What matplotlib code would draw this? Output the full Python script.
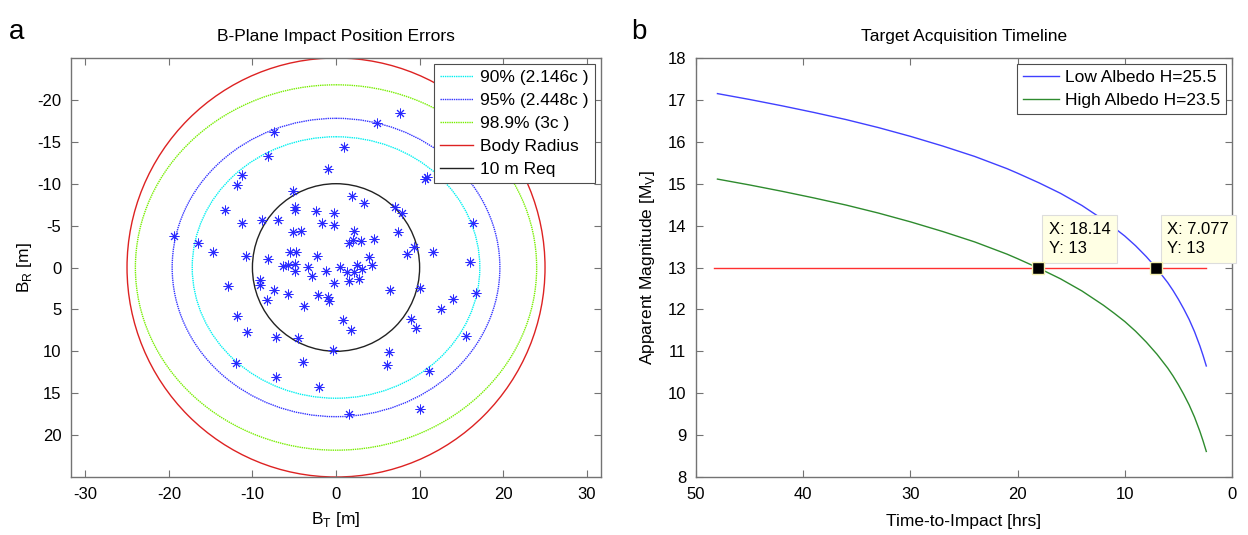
import numpy as np
import matplotlib.pyplot as plt
from matplotlib.patches import Ellipse

plt.rcParams['font.family'] = ['Liberation Sans', 'DejaVu Sans']
plt.rcParams['axes.unicode_minus'] = False

# ---------------------------------------------------------------
# panel a: B-plane impact points
# ---------------------------------------------------------------
bt = [-7.4, -8.1, -11.3, -11.8, -5.1, -4.9, -4.9, -2.4, -13.3, -11.2, -8.8, -6.9,
      -5.2, -4.2, -19.4, -16.5, -14.7, -10.8, -8.1, -5.5, -4.8, -2.3, -6.4, -5.7,
      -4.9, -3.4,
      -4.9, -2.9, -12.9, -9.1, -9.1, -7.4, -5.8, -8.2, -2.2, -3.8, -11.9, -10.7,
      -7.2, -4.6, -3.9, -12.0, -7.2, -2.0,
      7.6, 4.9, 0.9, -1.0, 10.6, 10.9, 1.9, 3.4, 7.0, 7.9, -0.2, -1.7, -0.2, 16.4,
      2.2, 7.4, 4.6, 2.0, 1.6, 3.0, 9.3, 11.6, 8.5, 3.9, 16.0, 2.5, 4.3, 0.5,
      -1.2, 1.3, 2.1, 3.1, -0.2, 1.6, 2.7, 6.5, 10.0, 16.7, -0.9, -0.8, 14.0, 12.6,
      0.8, 9.0, 9.6, 1.8, 15.5, -0.4, 6.3, 6.1, 11.1, 10.0, 1.5]
br = [-16.2, -13.3, -11.0, -9.9, -9.1, -7.2, -6.9, -6.7, -6.9, -5.3, -5.7, -5.7,
      -4.2, -4.3, -3.8, -2.9, -1.9, -1.4, -1.0, -1.9, -1.9, -1.4, -0.2, -0.3,
      -0.4, -0.1,
      0.4, 1.0, 2.2, 1.5, 2.1, 2.7, 3.2, 3.9, 3.3, 4.6, 5.8, 7.7,
      8.3, 8.4, 11.3, 11.4, 13.1, 14.3,
      -18.4, -17.2, -14.4, -11.8, -10.6, -10.8, -8.5, -7.7, -7.2, -6.5, -6.5, -5.3, -5.1, -5.3,
      -4.4, -4.2, -3.4, -3.3, -2.9, -3.2, -2.5, -1.9, -1.6, -1.3, -0.6, -0.3, -0.3, -0.1,
      0.4, 0.5, 0.5, 0.2, 1.9, 1.6, 1.4, 2.7, 2.4, 3.0, 3.5, 4.0, 3.8, 4.9,
      6.3, 6.1, 7.2, 7.4, 8.2, 9.8, 10.1, 11.6, 12.4, 16.9, 17.5]

# error ellipse semi-axes (BT, BR) and plain circles
ell_labels = ['90% (2.146c )', '95% (2.448c )', '98.9% (3c )']
ell_bt = [17.2, 19.6, 24.0]
ell_br = [15.6, 17.8, 21.8]
ell_colors = ['#00f0f0', '#3333ff', '#77ee00']
body_radius = 25.0
req_radius = 10.0

# ---------------------------------------------------------------
# panel b: apparent magnitude vs time to impact
# ---------------------------------------------------------------
t_hrs = [48, 45, 42, 39, 36, 33, 30, 27, 24, 21, 20, 18, 16, 14, 12, 11, 10, 9, 8,
         7, 6, 5.5, 5, 4.5, 4, 3.5, 3, 2.7, 2.4]
mag_low = [17.15, 17.01, 16.86, 16.70, 16.53, 16.34, 16.13, 15.90, 15.65, 15.36,
           15.25, 15.02, 14.77, 14.48, 14.14, 13.95, 13.75, 13.52, 13.26, 12.97,
           12.64, 12.45, 12.24, 12.01, 11.76, 11.47, 11.13, 10.90, 10.65]
mag_high = [15.11, 14.97, 14.82, 14.66, 14.49, 14.30, 14.09, 13.86, 13.61, 13.32,
            13.21, 12.98, 12.73, 12.44, 12.10, 11.91, 11.71, 11.48, 11.22, 10.93,
            10.60, 10.41, 10.20, 9.97, 9.72, 9.43, 9.09, 8.86, 8.61]
limit_mag = 13
limit_t = [48.3, 2.4]
tip_x = [18.14, 7.077]
tip_labels = ['X: 18.14\nY: 13', 'X: 7.077\nY: 13']

fig = plt.figure(figsize=(12.48, 5.35), dpi=100)
ax1 = fig.add_axes([0.0569, 0.1084, 0.4247, 0.7832])
ax2 = fig.add_axes([0.5577, 0.1084, 0.4295, 0.7832])

frame = '0.45'
for ax in (ax1, ax2):
    for s in ax.spines.values():
        s.set_color(frame)
        s.set_linewidth(1.0)
    ax.tick_params(direction='in', top=True, right=True, length=5, width=0.8,
                   color=frame, labelsize=12, labelcolor='black', pad=7)

# --- panel a
handles = []
for a, b, c, lab in zip(ell_bt, ell_br, ell_colors, ell_labels):
    e = Ellipse((0, 0), 2 * a, 2 * b, fill=False, ec=c, lw=1.0, ls=(0, (1, 0.6)))
    ax1.add_patch(e)
    h, = ax1.plot([], [], color=c, lw=1.0, ls=(0, (1, 0.6)), label=lab)
    handles.append(h)
ax1.add_patch(Ellipse((0, 0), 2 * body_radius, 2 * body_radius, fill=False, ec='#dd2222', lw=1.0))
h, = ax1.plot([], [], color='#dd2222', lw=1.0, label='Body Radius')
handles.append(h)
ax1.add_patch(Ellipse((0, 0), 2 * req_radius, 2 * req_radius, fill=False, ec='#222222', lw=1.0))
h, = ax1.plot([], [], color='#222222', lw=1.0, label='10 m Req')
handles.append(h)

ax1.plot(bt, br, ls='none', marker=(8, 2, 0), ms=7, mew=0.7, color='#2a2aff', zorder=5)

ax1.set_xlim(-31.7, 31.7)
ax1.set_ylim(25, -25)
ax1.set_xticks(np.arange(-30, 31, 10))
ax1.set_yticks(np.arange(-20, 21, 5))
ax1.set_xlabel('B$_\\mathregular{T}$ [m]', fontsize=12.5, labelpad=6)
ax1.set_ylabel('B$_\\mathregular{R}$ [m]', fontsize=12.5, labelpad=2)
ax1.set_title('B-Plane Impact Position Errors', fontsize=12.5, pad=12)
leg1 = ax1.legend(handles=handles, loc='upper right', fontsize=12.5, fancybox=False,
                  framealpha=1, edgecolor='0.3', handlelength=1.9, handletextpad=0.4,
                  borderaxespad=0.35, labelspacing=0.45, borderpad=0.35)
leg1.get_frame().set_linewidth(0.8)

# --- panel b
ax2.plot(t_hrs, mag_low, color='#4040ff', lw=1.0, label='Low Albedo H=25.5')
ax2.plot(t_hrs, mag_high, color='#2e8b2e', lw=1.0, label='High Albedo H=23.5')
ax2.plot(limit_t, [limit_mag, limit_mag], color='#ff3030', lw=1.0)
ax2.plot(tip_x, [limit_mag] * len(tip_x), ls='none', marker='s', ms=8,
         mfc='black', mec='#f4f0b0', mew=1.0, zorder=8)
for x, lab in zip(tip_x, tip_labels):
    ax2.annotate(lab, (x, limit_mag), xytext=(8, 8), textcoords='offset points',
                 ha='left', va='bottom', fontsize=12, linespacing=1.4,
                 bbox=dict(boxstyle='square,pad=0.4', fc='#ffffe4', ec='#dddddd', lw=0.8),
                 zorder=7)

ax2.set_xlim(50, 0)
ax2.set_ylim(8, 18)
ax2.set_xticks(np.arange(0, 51, 10))
ax2.set_yticks(np.arange(8, 19, 1))
ax2.set_xlabel('Time-to-Impact [hrs]', fontsize=12.5, labelpad=9)
ax2.set_ylabel('Apparent Magnitude [M$_\\mathregular{V}$]', fontsize=12.5, labelpad=8)
ax2.set_title('Target Acquisition Timeline', fontsize=12.5, pad=12)
leg2 = ax2.legend(loc='upper right', fontsize=12.5, fancybox=False, framealpha=1,
                  edgecolor='0.3', handlelength=2.1, handletextpad=0.3,
                  borderaxespad=0.35, labelspacing=0.42, borderpad=0.35)
leg2.get_frame().set_linewidth(0.8)

fig.text(0.007, 0.965, 'a', fontsize=20, va='top', ha='left')
fig.text(0.506, 0.965, 'b', fontsize=20, va='top', ha='left')

plt.savefig('out.png', dpi=100)
